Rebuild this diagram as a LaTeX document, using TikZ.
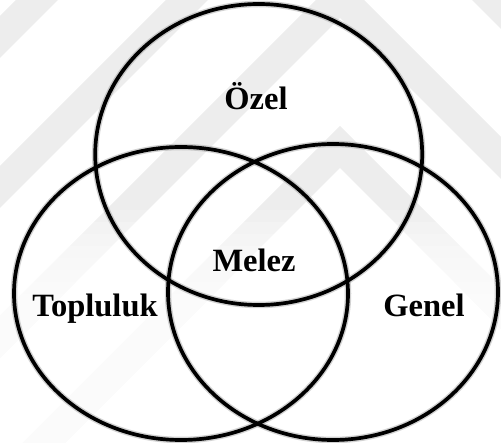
\documentclass[tikz,border=0pt]{standalone}
\usepackage{fontspec}
\setmainfont{Liberation Serif}
\begin{document}
\begin{tikzpicture}[x=1pt,y=-1pt,
  ring/.style={line width=3.7pt,draw=black},
  ringglow/.style={line width=6.5pt,draw=black!35,opacity=0.5},
  label/.style={font=\fontsize{32.5}{32.5}\selectfont\bfseries,inner sep=0pt,anchor=base},
  band/.style={fill=black!7}]
\useasboundingbox (0,0) rectangle (501,443);
\begin{scope}
  \clip (0,0) rectangle (501,443);
  % faint chevron bands in the background
  \foreach \a in {126,-24,-174,-324} {
    \fill[band] (340,\a) -- ++(600,600) -- ++(0,42) -- (340,\a+42)
      -- ++(-600,600) -- ++(0,-42) -- cycle;
  }
  % the bands fade out towards the bottom
  \foreach \i in {0,...,11} {
    \fill[white,opacity=0.2] (0,210+12*\i) rectangle (501,443);
  }
\end{scope}
% the three sets
\coordinate (cT) at (258.7,154.5);
\coordinate (cL) at (181,293.5);
\coordinate (cR) at (333,292);
\foreach \c/\rx/\ry in {cT/163.5/150.5, cL/167/146.5, cR/165/148} {
  \draw[ringglow] (\c) ellipse [x radius=\rx, y radius=\ry];
}
\draw[ring] (cT) ellipse [x radius=163.5, y radius=150.5];
\draw[ring] (cL) ellipse [x radius=167, y radius=146.5];
\draw[ring] (cR) ellipse [x radius=165, y radius=148];
% labels
\node[label] (ozel) at (256,110) {Özel};
\node[label] (melez) at (254,272) {Melez};
\node[label] (topluluk) at (95,317) {Topluluk};
\node[label] (genel) at (424,317) {Genel};
\end{tikzpicture}
\end{document}
